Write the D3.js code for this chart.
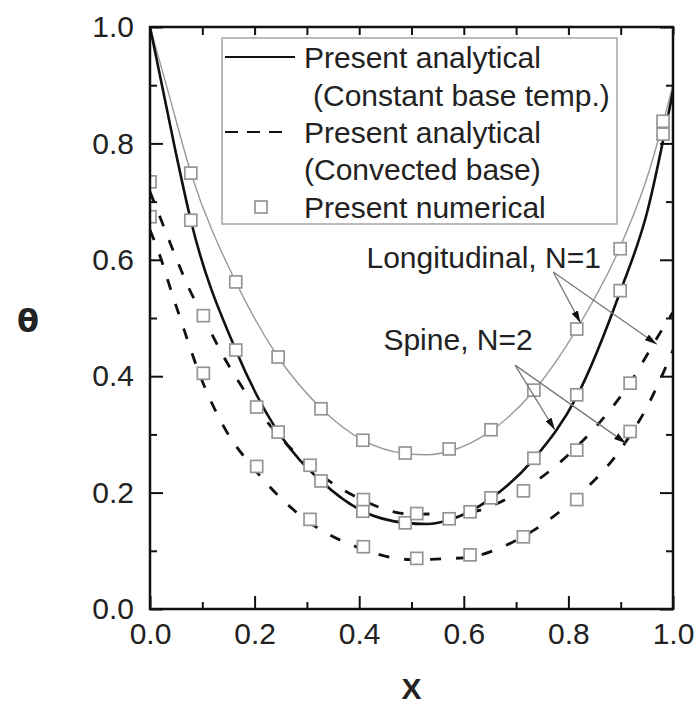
<!DOCTYPE html>
<html><head><meta charset="utf-8">
<script src="https://cdn.jsdelivr.net/npm/d3@7"></script>
<style>body{margin:0;background:#fff} svg{display:block}</style>
</head><body><svg id="c" width="698" height="708"></svg>
<script>
// ---------- data ----------
const majorTicks = [0, 0.2, 0.4, 0.6, 0.8, 1.0];
const minorTicks = [0.1, 0.3, 0.5, 0.7, 0.9];
const tickLabels = ["0.0", "0.2", "0.4", "0.6", "0.8", "1.0"];

// analytical, constant base temperature
const xLongConst = [0, 0.035, 0.078, 0.164, 0.245, 0.327, 0.407, 0.488, 0.53, 0.572, 0.652, 0.734, 0.816, 0.899, 0.95, 1.0];
const longConst  = [1.0, 0.888, 0.75, 0.562, 0.433, 0.345, 0.29, 0.267, 0.265, 0.271, 0.306, 0.375, 0.481, 0.622, 0.74, 0.9];
const xSpineConst = [0, 0.048, 0.078, 0.164, 0.245, 0.327, 0.407, 0.488, 0.53, 0.572, 0.652, 0.734, 0.816, 0.899, 0.95, 1.0];
const spineConst  = [1.0, 0.79, 0.668, 0.445, 0.304, 0.22, 0.168, 0.148, 0.146, 0.153, 0.19, 0.258, 0.365, 0.545, 0.68, 0.89];

// analytical, convected base
const xLongConv = [0, 0.015, 0.035, 0.054, 0.073, 0.1, 0.14, 0.2, 0.3, 0.4, 0.5, 0.6, 0.7, 0.8, 0.885, 0.918, 0.946, 0.975, 1.0];
const longConv  = [0.717, 0.683, 0.637, 0.594, 0.554, 0.505, 0.435, 0.35, 0.25, 0.19, 0.163, 0.165, 0.198, 0.265, 0.348, 0.388, 0.43, 0.474, 0.51];
const xSpineConv = [0, 0.015, 0.045, 0.061, 0.077, 0.092, 0.14, 0.2, 0.3, 0.4, 0.5, 0.6, 0.7, 0.8, 0.908, 0.952, 0.975, 1.0];
const spineConv  = [0.651, 0.617, 0.534, 0.491, 0.448, 0.41, 0.315, 0.24, 0.152, 0.105, 0.085, 0.088, 0.118, 0.18, 0.285, 0.35, 0.393, 0.445];

// numerical
const xNumConst = [0.078, 0.164, 0.245, 0.327, 0.407, 0.488, 0.572, 0.652, 0.734, 0.816, 0.899, 0.981];
const longConstNum  = [0.749, 0.562, 0.433, 0.344, 0.290, 0.268, 0.275, 0.308, 0.376, 0.481, 0.619, 0.838];
const spineConstNum = [0.668, 0.445, 0.304, 0.220, 0.168, 0.148, 0.155, 0.191, 0.259, 0.368, 0.547, 0.816];
const xNumConv = [0, 0.102, 0.204, 0.306, 0.408, 0.51, 0.612, 0.714, 0.816, 0.918];
const longConvNum  = [0.734, 0.504, 0.347, 0.247, 0.188, 0.164, 0.167, 0.203, 0.273, 0.388];
const spineConvNum = [0.674, 0.405, 0.245, 0.154, 0.107, 0.087, 0.093, 0.124, 0.188, 0.305];

// annotations (data coordinates)
const annLabels = ["Longitudinal, N=1", "Spine, N=2"];
const annLabelX = [0.638, 0.589];
const annLabelY = [0.605, 0.464];
const annStartX = [0.771, 0.698];
const annStartY = [0.579, 0.419];
const annTipX = [[0.823, 0.969], [0.774, 0.91]];
const annTipY = [[0.492, 0.455], [0.308, 0.285]];

const legendLabels = [["Present analytical", "(Constant base temp.)"], ["Present analytical", "(Convected base)"], ["Present numerical"]];

// ---------- layout ----------
const svg = d3.select("#c");
const L = 150, R = 673, T = 27, B = 609;
const x = d3.scaleLinear().domain([0, 1]).range([L, R]);
const y = d3.scaleLinear().domain([0, 1]).range([B, T]);
const FONT = "'Liberation Sans', Arial, sans-serif";
const TXT = "#222";

svg.append("defs").append("clipPath").attr("id", "plot")
  .append("rect").attr("x", L).attr("y", T).attr("width", R - L).attr("height", B - T);
const defs = svg.select("defs");
defs.append("marker").attr("id", "ah").attr("viewBox", "0 0 12 8")
  .attr("refX", 12).attr("refY", 4).attr("markerWidth", 12).attr("markerHeight", 8)
  .attr("markerUnits", "userSpaceOnUse").attr("orient", "auto")
  .append("path").attr("d", "M0,0.5 L12,4 L0,7.5 Z").attr("fill", "#111");

const plot = svg.append("g").attr("clip-path", "url(#plot)");
const line = d3.line().x(d => x(d[0])).y(d => y(d[1])).curve(d3.curveMonotoneX);
const zip = (a, b) => a.map((v, i) => [v, b[i]]);

const curves = [
  {xs: xLongConst, ys: longConst, stroke: "#9a9a9a", w: 1.4, dash: null},
  {xs: xSpineConst, ys: spineConst, stroke: "#111", w: 2.6, dash: null},
  {xs: xLongConv, ys: longConv, stroke: "#111", w: 2.8, dash: "11,15"},
  {xs: xSpineConv, ys: spineConv, stroke: "#111", w: 2.8, dash: "11,15"}
];
curves.forEach(c => {
  plot.append("path").datum(zip(c.xs, c.ys)).attr("d", line)
    .attr("fill", "none").attr("stroke", c.stroke).attr("stroke-width", c.w)
    .attr("stroke-dasharray", c.dash);
});

// annotation arrows
annLabels.forEach((lab, i) => {
  annTipX[i].forEach((tx, j) => {
    svg.append("line")
      .attr("x1", x(annStartX[i])).attr("y1", y(annStartY[i]))
      .attr("x2", x(tx)).attr("y2", y(annTipY[i][j]))
      .attr("stroke", "#777").attr("stroke-width", 1.3)
      .attr("marker-end", "url(#ah)");
  });
  svg.append("text").attr("x", x(annLabelX[i])).attr("y", y(annLabelY[i]))
    .attr("text-anchor", "middle").attr("dy", "0.36em")
    .attr("font-family", FONT).attr("font-size", 30).attr("fill", TXT).text(lab);
});

// numerical squares
const SQ = 12;
[[xNumConst, longConstNum], [xNumConst, spineConstNum], [xNumConv, longConvNum], [xNumConv, spineConvNum]].forEach(([xs, ys]) => {
  plot.selectAll(null).data(zip(xs, ys)).enter().append("rect")
    .attr("x", d => x(d[0]) - SQ / 2).attr("y", d => y(d[1]) - SQ / 2)
    .attr("width", SQ).attr("height", SQ)
    .attr("fill", "#fff").attr("stroke", "#959595").attr("stroke-width", 1.7);
});

// ---------- axes ----------
const fmt = (d) => tickLabels[majorTicks.indexOf(d)];
function styleAxis(g) {
  g.select(".domain").remove();
  g.selectAll(".tick line").attr("stroke", "#111").attr("stroke-width", 2);
  g.selectAll("text").attr("font-family", FONT).attr("font-size", 30).attr("fill", TXT);
}
svg.append("g").attr("transform", `translate(0,${B})`)
  .call(d3.axisBottom(x).tickValues(majorTicks).tickFormat(fmt).tickSize(-13).tickPadding(14)).call(styleAxis);
svg.append("g").attr("transform", `translate(0,${B})`)
  .call(d3.axisBottom(x).tickValues(minorTicks).tickFormat("").tickSize(-7)).call(styleAxis);
svg.append("g").attr("transform", `translate(${L},0)`)
  .call(d3.axisLeft(y).tickValues(majorTicks).tickFormat(fmt).tickSize(-13).tickPadding(16)).call(styleAxis);
svg.append("g").attr("transform", `translate(${L},0)`)
  .call(d3.axisLeft(y).tickValues(minorTicks).tickFormat("").tickSize(-7)).call(styleAxis);
svg.append("g").attr("transform", `translate(0,${T})`)
  .call(d3.axisTop(x).tickValues(majorTicks.concat(minorTicks)).tickFormat("").tickSize(-8)).call(styleAxis);
svg.append("g").attr("transform", `translate(${R},0)`)
  .call(d3.axisRight(y).tickValues(majorTicks).tickFormat("").tickSize(-13)).call(styleAxis);
svg.append("g").attr("transform", `translate(${R},0)`)
  .call(d3.axisRight(y).tickValues(minorTicks).tickFormat("").tickSize(-7)).call(styleAxis);

svg.append("rect").attr("x", L).attr("y", T).attr("width", R - L).attr("height", B - T)
  .attr("fill", "none").attr("stroke", "#111").attr("stroke-width", 2.5);

// axis titles
svg.append("text").attr("x", 28).attr("y", (T + B) / 2 + 2).attr("dy", "0.36em")
  .attr("text-anchor", "middle").attr("font-family", "'DejaVu Sans', sans-serif").attr("font-weight", "bold")
  .attr("font-size", 32).attr("fill", TXT).text("θ");
svg.append("text").attr("x", (L + R) / 2).attr("y", 688).attr("dy", "0.36em")
  .attr("text-anchor", "middle").attr("font-family", FONT).attr("font-weight", "bold")
  .attr("font-size", 30).attr("fill", TXT).text("X");

// ---------- legend ----------
const lg = svg.append("g").attr("transform", `translate(${L + 72},${T + 11})`);
lg.append("rect").attr("width", 395).attr("height", 186)
  .attr("fill", "#fff").attr("stroke", "#aaa").attr("stroke-width", 1.6);
const rowY = [19, 57, 94, 131, 169];
const tx = 82;
function ltext(t, xx, yy) {
  lg.append("text").attr("x", xx).attr("y", yy).attr("dy", "0.36em")
    .attr("font-family", FONT).attr("font-size", 30).attr("fill", TXT).text(t);
}
lg.append("line").attr("x1", 3).attr("x2", 73).attr("y1", rowY[0]).attr("y2", rowY[0])
  .attr("stroke", "#111").attr("stroke-width", 2);
ltext(legendLabels[0][0], tx, rowY[0]);
ltext(legendLabels[0][1], tx + 9, rowY[1]);
lg.append("line").attr("x1", 3).attr("x2", 63).attr("y1", rowY[2]).attr("y2", rowY[2])
  .attr("stroke", "#111").attr("stroke-width", 2).attr("stroke-dasharray", "13,9");
ltext(legendLabels[1][0], tx, rowY[2]);
ltext(legendLabels[1][1], tx, rowY[3]);
lg.append("rect").attr("x", 39 - SQ / 2).attr("y", rowY[4] - SQ / 2).attr("width", SQ).attr("height", SQ)
  .attr("fill", "#fff").attr("stroke", "#959595").attr("stroke-width", 1.7);
ltext(legendLabels[2][0], tx, rowY[4]);
</script></body></html>
